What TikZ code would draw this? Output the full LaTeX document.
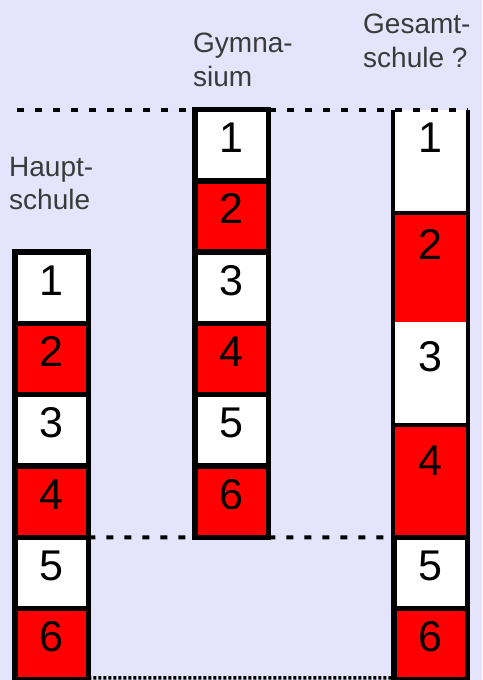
\documentclass[tikz,border=0pt]{standalone}
\usepackage{fontspec}
\setmainfont{Liberation Sans}
\usetikzlibrary{positioning}
\definecolor{PageBg}{HTML}{E4E4FC}
\definecolor{CellRed}{HTML}{FF0000}
\definecolor{LabelGray}{HTML}{3A3A3A}
\tikzset{
  school cell/.style={
    draw=black,
    line width=5.5pt,
    outer sep=0pt,
    anchor=north,
    minimum width=73.5pt,
    inner xsep=0pt,
    inner ysep=12pt,
    text height=31pt,
    text depth=16.3pt,
    font=\fontsize{43}{43}\selectfont
  },
  white cell/.style={school cell,fill=white},
  red cell/.style={school cell,fill=CellRed},
  open cell/.style={
    draw=none,
    outer sep=0pt,
    anchor=north,
    minimum width=75pt,
    inner xsep=0pt,
    text height=31pt,
    font=\fontsize{43}{43}\selectfont
  },
  open side/.style={draw=black,line width=4pt},
  school label/.style={
    anchor=north west,
    inner sep=0pt,
    align=left,
    text=LabelGray,
    font=\fontsize{28}{33.5}\selectfont
  },
  level line/.style={draw=black,line width=4pt,dash pattern=on 7pt off 11pt},
  base line/.style={draw=black,line width=3.5pt,dash pattern=on 3pt off 2pt}
}

\begin{document}
\begin{tikzpicture}[x=1pt,y=-1pt]
  \useasboundingbox (0,0) rectangle (482,680);
  \fill[PageBg] (0,0) rectangle (482,680);

  % titles
  \node[school label] (haupt) at (9,157) {Haupt-\\schule};
  \node[school label] (gym) at (193,33) {Gymna-\\sium};
  \node[school label] (gesamt) at (363,14) {Gesamt-\\schule ?};

  % Hauptschule
  \node[white cell] (hs1) at (51.5,252.1) {1};
  \node[red cell,below=0pt of hs1] (hs2) {2};
  \node[white cell,below=0pt of hs2] (hs3) {3};
  \node[red cell,below=0pt of hs3] (hs4) {4};
  \node[white cell,below=0pt of hs4] (hs5) {5};
  \node[red cell,below=0pt of hs5] (hs6) {6};

  % Gymnasium
  \node[white cell] (gy1) at (231.5,109.5) {1};
  \node[red cell,below=0pt of gy1] (gy2) {2};
  \node[white cell,below=0pt of gy2] (gy3) {3};
  \node[red cell,below=0pt of gy3] (gy4) {4};
  \node[white cell,below=0pt of gy4] (gy5) {5};
  \node[red cell,below=0pt of gy5] (gy6) {6};

  % Gesamtschule
  \node[open cell,fill=white,inner ysep=11.5pt,text depth=49.5pt] (gs1) at (430.5,109.5) {1};
  \node[open cell,fill=CellRed,inner ysep=15pt,text depth=48pt,below=0pt of gs1] (gs2) {2};
  \node[open cell,fill=white,inner ysep=18pt,text depth=35.5pt,below=0pt of gs2] (gs3) {3};
  \node[open cell,fill=CellRed,inner ysep=20pt,text depth=41.8pt,below=0pt of gs3] (gs4) {4};
  \draw[open side] (gs1.north west) -- (gs4.south west);
  \draw[open side] (gs1.north east) -- (gs4.south east);
  \draw[open side] (gs1.south west) -- (gs1.south east);
  \draw[open side] (gs3.south west) -- (gs3.south east);
  \node[white cell,below=0pt of gs4] (gs5) {5};
  \node[red cell,below=0pt of gs5] (gs6) {6};

  % level lines
  \coordinate (top start) at (17,109.5);
  \draw[level line] (top start) -- (gs1.north east);
  \draw[level line] (hs5.north east) -- (gs5.north east);
  \draw[base line] ([yshift=2pt]hs6.south east) -- ([yshift=2pt]gs6.south west);
\end{tikzpicture}
\end{document}
